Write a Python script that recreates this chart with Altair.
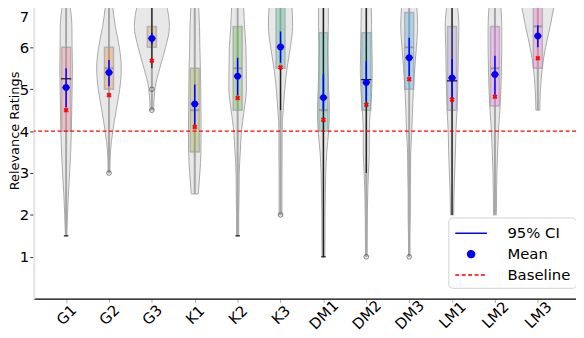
import json
import altair as alt
import pandas as pd

# ---------------- data ----------------
categories = ["G1", "G2", "G3", "K1", "K2", "K3", "DM1", "DM2", "DM3", "LM1", "LM2", "LM3"]
palette = ["#f77189", "#e68332", "#bb9832", "#97a431", "#50b131", "#34af8a",
           "#36ada4", "#38aabf", "#3ba3ec", "#a48cf4", "#e866f4", "#f668c2"]

# violin profile: relative density at rating levels (None = outside data range)
levels = [1.0, 1.5, 2.0, 2.5, 3.0, 3.5, 4.0, 4.5, 5.0, 5.5, 6.0, 6.5, 7.0]
N = None
dens_G1 = [N, 0.04, 0.08, 0.13, 0.20, 0.26, 0.30, 0.32, 0.34, 0.36, 0.34, 0.33, 0.22]
dens_G2 = [N, N, N, N, 0.05, 0.08, 0.22, 0.41, 0.61, 0.70, 0.59, 0.36, 0.20]
dens_G3 = [N, N, N, N, N, N, N, 0.10, 0.17, 0.45, 0.78, 1.00, 0.84]
dens_K1 = [N, N, N, 0.20, 0.29, 0.35, 0.36, 0.35, 0.34, 0.32, 0.29, 0.27, 0.22]
dens_K2 = [N, 0.06, 0.06, 0.08, 0.09, 0.15, 0.22, 0.37, 0.50, 0.49, 0.47, 0.39, 0.34]
dens_K3 = [N, N, 0.08, 0.08, 0.08, 0.09, 0.09, 0.15, 0.24, 0.37, 0.56, 0.69, 0.65]
dens_DM1 = [0.08, 0.09, 0.09, 0.11, 0.13, 0.19, 0.30, 0.34, 0.30, 0.26, 0.24, 0.28, 0.28]
dens_DM2 = [0.04, 0.05, 0.06, 0.08, 0.12, 0.17, 0.17, 0.23, 0.31, 0.34, 0.32, 0.30, 0.28]
dens_DM3 = [0.04, 0.04, 0.06, 0.06, 0.08, 0.09, 0.15, 0.19, 0.24, 0.32, 0.41, 0.48, 0.43]
dens_LM1 = [N, N, 0.09, 0.11, 0.15, 0.19, 0.22, 0.28, 0.32, 0.34, 0.36, 0.39, 0.30]
dens_LM2 = [N, N, 0.08, 0.09, 0.11, 0.15, 0.20, 0.28, 0.34, 0.37, 0.39, 0.39, 0.33]
dens_LM3 = [N, N, N, N, N, N, N, 0.11, 0.15, 0.25, 0.44, 0.70, 0.93]
densities = [dens_G1, dens_G2, dens_G3, dens_K1, dens_K2, dens_K3,
             dens_DM1, dens_DM2, dens_DM3, dens_LM1, dens_LM2, dens_LM3]

q1 = [4.0, 5.0, 6.0, 3.5, 4.5, 5.5, 4.0, 4.5, 5.0, 4.5, 4.6, 5.5]
q3 = [6.0, 6.0, 6.5, 5.5, 6.5, 7.0, 6.35, 6.35, 6.83, 6.5, 6.5, 7.0]
grey_median = [N, 5.5, N, 4.5, 5.5, N, 4.5, N, 6.0, N, 5.5, 6.5]
black_median = [5.25, N, N, N, N, N, N, 5.23, N, 5.2, N, N]
whisk_lo = [1.5, 3.0, 4.5, 2.5, 1.5, 2.0, 1.0, 1.0, 1.0, 2.0, 2.0, 4.5]
whisk_hi = [7.0] * 12
black_lo = [N, N, 5.5, N, N, 4.5, 1.0, 3.0, N, 2.0, N, N]
black_hi = [N, N, 7.0, N, N, 5.5, 7.0, 7.0, N, 7.0, N, N]
caps = [1.5, N, N, N, 1.5, N, 1.0, N, N, N, N, N]
outlier_cat = ["G2", "G3", "G3", "K3", "DM2", "DM3"]
outlier_val = [3.0, 5.0, 4.5, 2.0, 1.0, 1.0]

means = [5.04, 5.40, 6.21, 4.65, 5.31, 6.01, 4.80, 5.16, 5.75, 5.27, 5.35, 6.27]
ci_lo = [4.57, 5.07, 6.07, 4.15, 4.85, 5.63, 4.49, 4.72, 5.31, 4.79, 4.87, 6.00]
ci_hi = [5.50, 5.70, 6.35, 5.11, 5.75, 6.38, 5.36, 5.66, 6.23, 5.72, 5.80, 6.53]
red_marks = [4.50, 4.86, 5.68, 4.10, 4.79, 5.52, 4.27, 4.63, 5.24, 4.75, 4.82, 5.74]
baseline = 4.0

series = ["95% CI", "Mean", "Baseline"]
y_ticks = [1, 2, 3, 4, 5, 6, 7]

# ---------------- tables ----------------
VW = 0.41   # half-width of the widest violin, x units
BW = 0.105  # half-width of a box
idx = {c: i for i, c in enumerate(categories)}

vrows = []
for i, (c, dens) in enumerate(zip(categories, densities)):
    for lv, d in zip(levels, dens):
        if d is not None:
            vrows.append({"cat": c, "v": lv, "lo": i - d * VW, "hi": i + d * VW})
vdf = pd.DataFrame(vrows)

box = pd.DataFrame({
    "cat": categories, "i": list(range(12)),
    "q1": q1, "q3": q3, "gmed": grey_median, "bmed": black_median,
    "wlo": whisk_lo, "whi": whisk_hi, "blo": black_lo, "bhi": black_hi, "cap": caps,
    "mean": means, "cilo": ci_lo, "cihi": ci_hi, "red": red_marks,
})
box["bl"] = box["i"] - BW
box["br"] = box["i"] + BW
box["ml"] = box["i"] - 1.15 * BW
box["mr"] = box["i"] + 1.15 * BW
box["tl"] = box["i"] - 0.85 * BW
box["tr"] = box["i"] + 0.85 * BW
box["cl"] = box["i"] - 0.5 * BW
box["cr"] = box["i"] + 0.5 * BW
box["s_ci"] = "95% CI"
box["s_mean"] = "Mean"

out = pd.DataFrame({"cat": outlier_cat, "v": outlier_val})
out["i"] = [idx[c] for c in outlier_cat]

base = pd.DataFrame({"series": ["Baseline"], "v": [baseline]})

# ---------------- scales ----------------
SYM = 413  # symbol size (legend and mean dots)
DOT = "M-0.345,0A0.345,0.345,0,1,0,0.345,0A0.345,0.345,0,1,0,-0.345,0Z"
LINE = "M-1.575,0L1.575,0"
xs = alt.Scale(domain=[-0.755, 11.89], nice=False, zero=False)
ys = alt.Scale(domain=[0, 7.087], nice=False, zero=False)
color_s = alt.Scale(domain=series, range=["#0000ff", "#0000ff", "#ff0000"])
dash_s = alt.Scale(domain=series, range=[[1, 0], [1, 0], [4, 2.5]])
shape_s = alt.Scale(domain=series, range=[LINE, DOT, LINE])
fill_s = alt.Scale(domain=categories, range=palette)

label_expr = "%s[datum.value]" % json.dumps(categories)

violin = alt.Chart(vdf).mark_area(
    orient="horizontal", interpolate="monotone",
    fill="#e8e8e8", stroke="#a9a9a9", strokeWidth=1,
).encode(
    y=alt.Y("v:Q", scale=ys, axis=alt.Axis(
        title="Relevance Ratings", values=y_ticks, grid=False,
        titleX=-15.5, titleY=130, titleAngle=270, titleAlign="center",
        titleBaseline="alphabetic", titleFontSize=13, labelPadding=1,
        labelOffset={"condition": {"test": "datum.value == 7", "value": 11}, "value": 0})),
    x=alt.X("lo:Q", scale=xs, axis=alt.Axis(
        title=None, values=list(range(12)), labelExpr=label_expr, grid=False,
        labelAngle=315, labelAlign="center", labelBaseline="middle",
        labelPadding=12, labelFlush=False, labelOverlap=False)),
    x2="hi:Q",
    detail="cat:N",
)

whisker = alt.Chart(box).mark_rule(color="#a6a6a6", strokeWidth=2).encode(
    x=alt.X("i:Q", scale=xs), y=alt.Y("wlo:Q", scale=ys), y2="whi:Q")

boxes = alt.Chart(box).mark_rect(
    fillOpacity=0.33, stroke="#9a9a9a", strokeOpacity=0.6, strokeWidth=1.5
).encode(
    x=alt.X("bl:Q", scale=xs), x2="br:Q",
    y=alt.Y("q1:Q", scale=ys), y2="q3:Q",
    fill=alt.Fill("cat:N", scale=fill_s, legend=None),
)

gmed = alt.Chart(box).transform_filter("isValid(datum.gmed)").mark_rule(
    color="#9a9a9a", strokeWidth=2).encode(
    x=alt.X("bl:Q", scale=xs), x2="br:Q", y=alt.Y("gmed:Q", scale=ys))

bseg = alt.Chart(box).transform_filter("isValid(datum.blo)").mark_rule(
    color="#222222", strokeWidth=1.3).encode(
    x=alt.X("i:Q", scale=xs), y=alt.Y("blo:Q", scale=ys), y2="bhi:Q")

bmed = alt.Chart(box).transform_filter("isValid(datum.bmed)").mark_rule(
    color="#222222", strokeWidth=1.3).encode(
    x=alt.X("ml:Q", scale=xs), x2="mr:Q", y=alt.Y("bmed:Q", scale=ys))

capm = alt.Chart(box).transform_filter("isValid(datum.cap)").mark_rule(
    color="#222222", strokeWidth=1.3).encode(
    x=alt.X("cl:Q", scale=xs), x2="cr:Q", y=alt.Y("cap:Q", scale=ys))

outliers = alt.Chart(out).mark_point(
    shape="circle", filled=False, stroke="#444444", strokeWidth=1, size=22
).encode(x=alt.X("i:Q", scale=xs), y=alt.Y("v:Q", scale=ys))

ci = alt.Chart(box).mark_rule(strokeWidth=1.5).encode(
    x=alt.X("i:Q", scale=xs), y=alt.Y("cilo:Q", scale=ys), y2="cihi:Q",
    color=alt.Color("s_ci:N", scale=color_s, title=None),
    strokeDash=alt.StrokeDash("s_ci:N", scale=dash_s, title=None),
)

baseline_rule = alt.Chart(base).mark_rule(strokeWidth=1.4).encode(
    y=alt.Y("v:Q", scale=ys),
    color=alt.Color("series:N", scale=color_s, title=None),
    strokeDash=alt.StrokeDash("series:N", scale=dash_s, title=None),
)

mean_tick = alt.Chart(box).mark_rule(color="#ff0000", strokeWidth=1.6).encode(
    x=alt.X("tl:Q", scale=xs), x2="tr:Q", y=alt.Y("mean:Q", scale=ys))

red_pts = alt.Chart(box).mark_point(
    shape="cross", angle=45, filled=True, color="#ff0000", size=28, opacity=0.95
).encode(x=alt.X("i:Q", scale=xs), y=alt.Y("red:Q", scale=ys))

mean_pts = alt.Chart(box).mark_point(filled=True, opacity=1, size=SYM).encode(
    x=alt.X("i:Q", scale=xs), y=alt.Y("mean:Q", scale=ys),
    color=alt.Color("s_mean:N", scale=color_s, title=None),
    shape=alt.Shape("s_mean:N", scale=shape_s, title=None),
)

chart = alt.layer(
    violin, whisker, boxes, gmed, bseg, bmed, capm, outliers,
    ci, baseline_rule, mean_tick, red_pts, mean_pts,
).properties(
    width=548, height=300,
    autosize=alt.AutoSizeParams(type="none"),
    padding={"left": 26, "top": -8, "right": 0, "bottom": 38},
    background="white",
).configure(
    font="DejaVu Sans",
).configure_view(
    stroke=None,
).configure_axis(
    labelFontSize=15, titleFontSize=15, titleFontWeight="normal",
    labelColor="black", titleColor="black", tickSize=4,
).configure_axisY(
    domainColor="#e4e4e4", domainWidth=2, tickColor="#333333",
).configure_axisX(
    domainColor="black", domainWidth=1.2, tickColor="#b0b0b0",
).configure_legend(
    orient="none", legendX=419, legendY=218,
    fillColor="white", strokeColor="#d0d0d0", cornerRadius=4, padding=5,
    labelFontSize=15, labelColor="black", labelOffset=25.7, rowPadding=2,
    symbolOffset=7, symbolStrokeWidth=1.5, symbolFillColor="#0000ff",
    symbolSize=SYM,
)

chart.save("out.html", embed_options={"renderer": "svg", "actions": False})
